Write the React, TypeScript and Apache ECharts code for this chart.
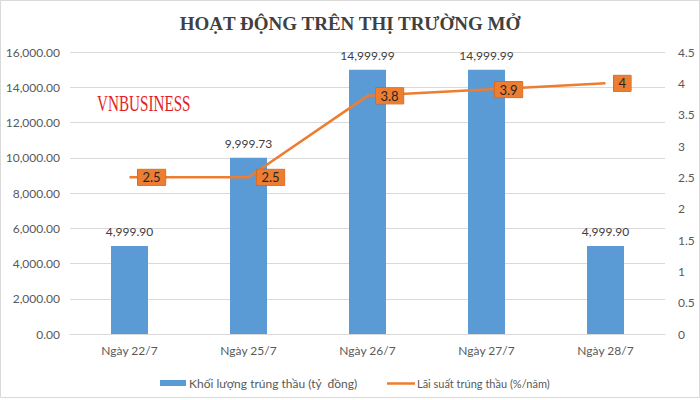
import React, { useEffect, useRef } from "react";
import * as echarts from "echarts";

const categories = ["Ngày 22/7", "Ngày 25/7", "Ngày 26/7", "Ngày 27/7", "Ngày 28/7"];
const volumeValues = [4999.9, 9999.73, 14999.99, 14999.99, 4999.9];
const rateValues = [2.5, 2.5, 3.8, 3.9, 4];
const volumeName = "Khối lượng trúng thầu (tỷ  đồng)";
const rateName = "Lãi suất trúng thầu (%/năm)";
const titleText = "HOẠT ĐỘNG TRÊN THỊ TRƯỜNG MỞ";
const watermarkText = "VNBUSINESS";

const FONT = "Lato, 'Open Sans', sans-serif";

function fmt(v: number): string {
  return v.toLocaleString("en-US", { minimumFractionDigits: 2, maximumFractionDigits: 2 });
}

export default function App() {
  const ref = useRef<HTMLDivElement>(null);
  useEffect(() => {
    if (!ref.current) return;
    const chart = echarts.init(ref.current, null, { renderer: "svg" });
    chart.setOption({
      animation: false,
      backgroundColor: "#ffffff",
      title: {
        text: titleText,
        left: "center",
        top: 9,
        textStyle: {
          fontFamily: "'Liberation Serif', 'DejaVu Serif', serif",
          fontWeight: "bold",
          fontSize: 19,
          color: "#404040",
        },
      },
      graphic: [
        {
          type: "rect",
          shape: { x: 0.5, y: 0.5, width: 699, height: 397 },
          style: { fill: "none", stroke: "#d9d9d9", lineWidth: 1 },
          silent: true,
        },
        {
          type: "text",
          x: 97,
          y: 92,
          scaleX: 0.66,
          style: {
            text: watermarkText,
            fontFamily: "'Liberation Serif', serif",
            fontSize: 23,
            fill: "#e31e24",
          },
          z: 100,
        },
      ],
      legend: [
        {
          top: 372,
          left: 155,
          itemGap: 0,
          itemWidth: 26,
          itemHeight: 6,
          textStyle: { fontFamily: FONT, fontSize: 12, color: "#595959", padding: [0, 0, 0, -2] },
          data: [{ name: volumeName, icon: "rect" }],
        },
        {
          top: 373,
          left: 382,
          itemGap: 0,
          itemWidth: 28,
          itemHeight: 2.5,
          textStyle: { fontFamily: FONT, fontSize: 11, color: "#595959", padding: [0, 0, 0, -3] },
          data: [{ name: rateName, icon: "rect" }],
        },
      ],
      grid: { left: 70, right: 35, top: 52, bottom: 66, containLabel: false },
      xAxis: {
        type: "category",
        data: categories,
        axisLine: { lineStyle: { color: "#d9d9d9" } },
        axisTick: { show: false },
        axisLabel: { fontFamily: FONT, fontSize: 12, color: "#595959", margin: 10 },
      },
      yAxis: [
        {
          type: "value",
          min: 0,
          max: 16000,
          interval: 2000,
          axisLine: { show: false },
          axisTick: { show: false },
          splitLine: { lineStyle: { color: "#d9d9d9" } },
          axisLabel: {
            fontFamily: FONT,
            fontSize: 12,
            color: "#595959",
            margin: 10,
            formatter: (v: number) => fmt(v),
          },
        },
        {
          type: "value",
          min: 0,
          max: 4.5,
          interval: 0.5,
          position: "right",
          axisLine: { show: false },
          axisTick: { show: false },
          splitLine: { show: false },
          axisLabel: { fontFamily: FONT, fontSize: 12, color: "#595959", margin: 13 },
        },
      ],
      series: [
        {
          name: volumeName,
          type: "bar",
          data: volumeValues,
          barWidth: 37,
          itemStyle: { color: "#5b9bd5" },
          label: {
            show: true,
            position: "top",
            distance: 8,
            fontFamily: FONT,
            fontSize: 12,
            color: "#404040",
            formatter: (p: any) => fmt(p.value),
          },
        },
        {
          name: rateName,
          type: "line",
          yAxisIndex: 1,
          data: rateValues,
          symbol: "circle",
          symbolSize: 0.01,
          showSymbol: true,
          lineStyle: { color: "#ed7d31", width: 2.5 },
          itemStyle: { color: "#ed7d31" },
          label: {
            show: true,
            position: "right",
            distance: 8,
            fontFamily: FONT,
            fontSize: 13,
            color: "#262626",
            backgroundColor: "#ed7d31",
            borderColor: "#c55a11",
            borderWidth: 0.5,
            padding: [2, 5, 1, 5],
          },
        },
      ],
    });
    return () => chart.dispose();
  }, []);
  return (
    <div
      ref={ref}
      style={{ position: "fixed", left: 0, top: 0, width: 700, height: 400 }}
    />
  );
}
